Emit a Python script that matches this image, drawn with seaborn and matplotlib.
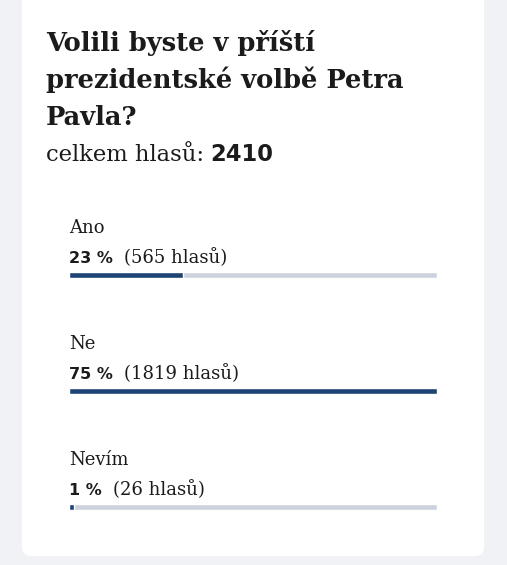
import matplotlib
matplotlib.use("Agg")
import matplotlib.pyplot as plt
import seaborn as sns
import pandas as pd
from matplotlib.patches import FancyBboxPatch
from matplotlib.transforms import IdentityTransform

# poll data
question = ["Volili byste v příští", "prezidentské volbě Petra", "Pavla?"]
total_votes = 2410
answers = ["Ano", "Ne", "Nevím"]
percents = [23, 75, 1]
votes = [565, 1819, 26]

df = pd.DataFrame({"answer": answers, "percent": percents, "votes": votes})
df["track"] = df["votes"].max()

W, H = 507, 565
DARK = "#1d4474"
TRACK = "#cdd3de"
INK = "#1b1b1b"
SERIF = "DejaVu Serif"
SANS = "DejaVu Sans"

sns.set_theme(style="white")
fig = plt.figure(figsize=(W / 100, H / 100), dpi=100)
fig.patch.set_facecolor("#f1f2f6")

# white card
card = FancyBboxPatch((22, 9), 462, 570, boxstyle="round,pad=0,rounding_size=9",
                      transform=IdentityTransform(), facecolor="white",
                      edgecolor="none", zorder=-10)
fig.add_artist(card)

# bars
ax = fig.add_axes([69 / W, 0, (437 - 69) / W, 348 / H])
sns.barplot(data=df, x="track", y="answer", color=TRACK, width=0.055, ax=ax,
            saturation=1)
sns.barplot(data=df, x="votes", y="answer", color=DARK, width=0.055, ax=ax,
            saturation=1)
ax.set_xlim(0, df["votes"].max())
ax.set_ylim(2.5, -0.5)
ax.axis("off")

# title
for i, line in enumerate(question):
    fig.text(46 / W, 1 - (51 + 37 * i) / H, line, family=SERIF, weight="bold",
             fontsize=18.5, color=INK, va="baseline")
t = fig.text(46 / W, 1 - 161 / H, "celkem hlasů:", family=SERIF, fontsize=16.3,
             color=INK, va="baseline")
ax.annotate(str(total_votes), xy=(1, 1 - 161 / H), xycoords=(t, "figure fraction"),
            xytext=(4.5, 0), textcoords="offset points", family=SANS,
            weight="bold", fontsize=16.3, color=INK, va="baseline",
            annotation_clip=False)

for i, row in df.iterrows():
    ax.text(0, i - 42 / 116, row["answer"], family=SERIF, fontsize=13,
            color=INK, va="baseline", clip_on=False)
    p = ax.text(0, i - 12 / 116, f"{row['percent']} %", family=SANS,
                weight="bold", fontsize=11.5, color=INK, va="baseline", clip_on=False)
    ax.annotate(f"({row['votes']} hlasů)", xy=(1, i - 12 / 116),
                xycoords=(p, "data"), xytext=(8, 0), textcoords="offset points",
                family=SERIF, fontsize=13, color=INK, va="baseline",
                annotation_clip=False)

fig.savefig("out.png", dpi=100, facecolor=fig.get_facecolor())
